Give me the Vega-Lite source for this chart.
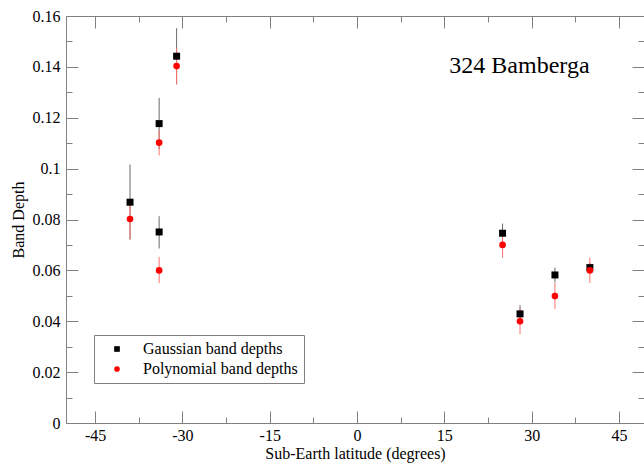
{
  "$schema": "https://vega.github.io/schema/vega-lite/v6.json",
  "width": 578,
  "height": 407,
  "autosize": "none",
  "padding": {"left": 66, "top": 16, "right": 0, "bottom": 40},
  "background": "white",
  "config": {
    "view": {"stroke": null},
    "font": "Liberation Serif",
    "axis": {
      "labelFont": "Liberation Serif",
      "titleFont": "Liberation Serif",
      "labelFontSize": 16,
      "titleFontSize": 16,
      "labelColor": "#000",
      "titleColor": "#000",
      "titleFontWeight": "normal",
      "domainColor": "#808080",
      "tickColor": "#808080",
      "domainWidth": 1,
      "tickWidth": 1,
      "grid": false
    },
    "legend": {
      "labelFont": "Liberation Serif",
      "labelFontSize": 16,
      "labelColor": "#000"
    }
  },
  "datasets": {
    "depths": [
      {"lat": -39, "series": "Gaussian band depths", "depth": 0.0868, "lo": 0.0721, "hi": 0.1016},
      {"lat": -34, "series": "Gaussian band depths", "depth": 0.1177, "lo": 0.1077, "hi": 0.1278},
      {"lat": -34, "series": "Gaussian band depths", "depth": 0.0751, "lo": 0.0686, "hi": 0.0813},
      {"lat": -31, "series": "Gaussian band depths", "depth": 0.1442, "lo": 0.1331, "hi": 0.1552},
      {"lat": 25, "series": "Gaussian band depths", "depth": 0.0746, "lo": 0.0708, "hi": 0.0784},
      {"lat": 28, "series": "Gaussian band depths", "depth": 0.0429, "lo": 0.0395, "hi": 0.0463},
      {"lat": 34, "series": "Gaussian band depths", "depth": 0.0582, "lo": 0.0552, "hi": 0.0611},
      {"lat": 40, "series": "Gaussian band depths", "depth": 0.0611, "lo": 0.0591, "hi": 0.0631},
      {"lat": -39, "series": "Polynomial band depths", "depth": 0.0802, "lo": 0.0722, "hi": 0.0882},
      {"lat": -34, "series": "Polynomial band depths", "depth": 0.1102, "lo": 0.1052, "hi": 0.1152},
      {"lat": -34, "series": "Polynomial band depths", "depth": 0.0600, "lo": 0.0550, "hi": 0.0653},
      {"lat": -31, "series": "Polynomial band depths", "depth": 0.1403, "lo": 0.1333, "hi": 0.1473},
      {"lat": 25, "series": "Polynomial band depths", "depth": 0.0700, "lo": 0.0650, "hi": 0.0750},
      {"lat": 28, "series": "Polynomial band depths", "depth": 0.0400, "lo": 0.0349, "hi": 0.0451},
      {"lat": 34, "series": "Polynomial band depths", "depth": 0.0499, "lo": 0.0448, "hi": 0.0550},
      {"lat": 40, "series": "Polynomial band depths", "depth": 0.0600, "lo": 0.0550, "hi": 0.0650}
    ],
    "label": [
      {"lat": 27.9, "depth": 0.1375, "text": "324 Bamberga"}
    ]
  },
  "resolve": {"axis": {"x": "independent", "y": "independent"}},
  "layer": [
    {
      "data": {"name": "depths"},
      "transform": [{"filter": "datum.series == 'Gaussian band depths'"}],
      "mark": {"type": "rule", "strokeWidth": 1, "color": "#6a6a6a"},
      "encoding": {
        "x": {
          "field": "lat", "type": "quantitative",
          "scale": {"domain": [-50, 49.3], "nice": false, "zero": false},
          "axis": {
            "orient": "bottom",
            "values": [-45, -30, -15, 0, 15, 30, 45],
            "tickSize": -12,
            "labelPadding": 16,
            "labelExpr": "datum.value < 0 ? '-' + (-datum.value) : '' + datum.value",
            "title": "Sub-Earth latitude (degrees)",
            "titlePadding": 2
          }
        },
        "y": {
          "field": "lo", "type": "quantitative",
          "scale": {"domain": [0, 0.16], "nice": false},
          "axis": {
            "orient": "left",
            "values": [0, 0.02, 0.04, 0.06, 0.08, 0.1, 0.12, 0.14, 0.16],
            "format": "~g",
            "tickSize": -12,
            "labelPadding": 18,
            "title": "Band Depth",
            "titlePadding": 6
          }
        },
        "y2": {"field": "hi"}
      }
    },
    {
      "data": {"name": "depths"},
      "transform": [{"filter": "datum.series == 'Polynomial band depths'"}],
      "mark": {"type": "rule", "strokeWidth": 1, "color": "#ff7070"},
      "encoding": {
        "x": {
          "field": "lat", "type": "quantitative",
          "axis": {
            "orient": "bottom",
            "values": [-37.5, -22.5, -7.5, 7.5, 22.5, 37.5],
            "tickSize": -6,
            "labels": false,
            "domain": false,
            "title": null
          }
        },
        "y": {
          "field": "lo", "type": "quantitative",
          "axis": {
            "orient": "left",
            "values": [0.01, 0.03, 0.05, 0.07, 0.09, 0.11, 0.13, 0.15],
            "tickSize": -6,
            "labels": false,
            "domain": false,
            "title": null
          }
        },
        "y2": {"field": "hi"}
      }
    },
    {
      "data": {"name": "depths"},
      "mark": {"type": "point", "filled": true, "opacity": 1},
      "encoding": {
        "x": {
          "field": "lat", "type": "quantitative",
          "axis": {
            "orient": "top",
            "values": [-45, -30, -15, 0, 15, 30, 45],
            "tickSize": -12,
            "labels": false,
            "domain": true,
            "title": null
          }
        },
        "y": {
          "field": "depth", "type": "quantitative",
          "axis": {
            "orient": "right",
            "values": [0, 0.02, 0.04, 0.06, 0.08, 0.1, 0.12, 0.14, 0.16],
            "tickSize": -12,
            "labels": false,
            "domain": false,
            "title": null
          }
        },
        "color": {
          "field": "series", "type": "nominal",
          "scale": {"domain": ["Gaussian band depths", "Polynomial band depths"], "range": ["#000000", "#ff0000"]},
          "legend": {
            "title": null,
            "orient": "none",
            "legendX": 28,
            "legendY": 319,
            "strokeColor": "#808080",
            "fillColor": "#ffffff",
            "padding": 6,
            "symbolOffset": 9,
            "labelOffset": 18,
            "rowPadding": 4,
            "symbolSize": 32,
            "symbolStrokeWidth": 0
          }
        },
        "shape": {
          "field": "series", "type": "nominal",
          "scale": {"domain": ["Gaussian band depths", "Polynomial band depths"], "range": ["square", "circle"]},
          "legend": {
            "title": null,
            "orient": "none",
            "legendX": 28,
            "legendY": 319,
            "strokeColor": "#808080",
            "fillColor": "#ffffff",
            "padding": 6,
            "symbolOffset": 9,
            "labelOffset": 18,
            "rowPadding": 4,
            "symbolSize": 32,
            "symbolStrokeWidth": 0
          }
        },
        "size": {
          "condition": {"test": "datum.series == 'Gaussian band depths'", "value": 49},
          "value": 44
        }
      }
    },
    {
      "data": {"name": "label"},
      "mark": {"type": "text", "font": "Liberation Serif", "fontSize": 24, "align": "center", "baseline": "alphabetic", "color": "#000"},
      "encoding": {
        "x": {
          "field": "lat", "type": "quantitative",
          "axis": {
            "orient": "top",
            "values": [-37.5, -22.5, -7.5, 7.5, 22.5, 37.5],
            "tickSize": -6,
            "labels": false,
            "domain": false,
            "title": null
          }
        },
        "y": {
          "field": "depth", "type": "quantitative",
          "axis": {
            "orient": "right",
            "values": [0.01, 0.03, 0.05, 0.07, 0.09, 0.11, 0.13, 0.15],
            "tickSize": -6,
            "labels": false,
            "domain": false,
            "title": null
          }
        },
        "text": {"field": "text"}
      }
    }
  ]
}
